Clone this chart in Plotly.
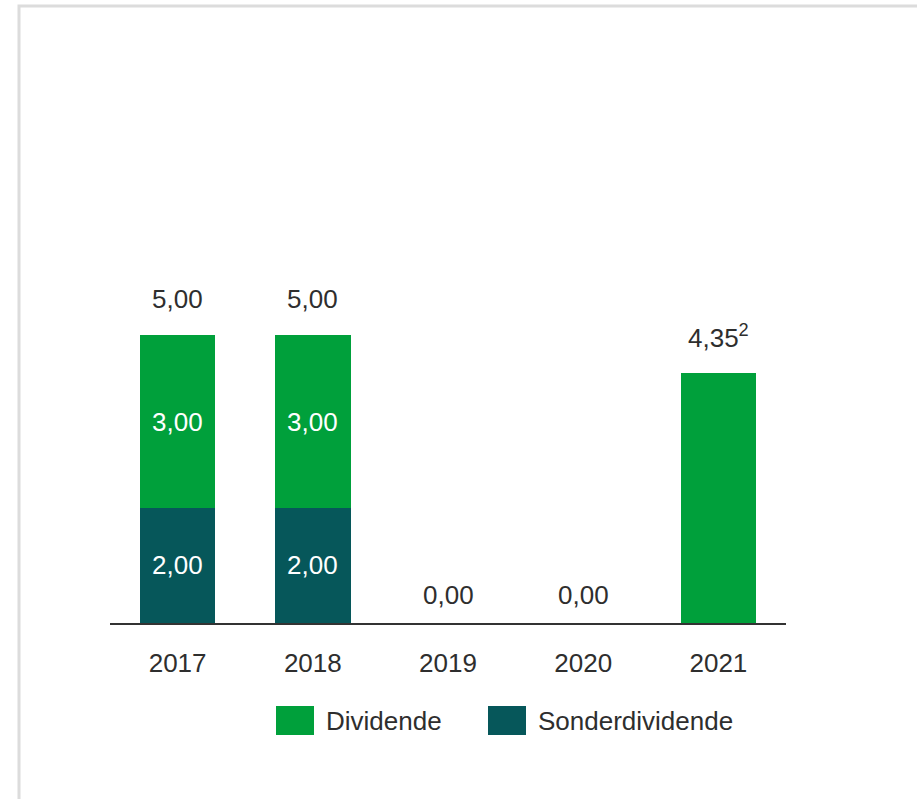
import plotly.graph_objects as go

# data
years = ['2017', '2018', '2019', '2020', '2021']
dividende = [3.00, 3.00, 0.00, 0.00, 4.35]
sonderdividende = [2.00, 2.00, 0.00, 0.00, 0.00]
footnotes = ['', '', '', '', '2']

GREEN = '#00A03B'
TEAL = '#06575A'
TEXT = '#2e2e2e'
FONT = 'Liberation Sans, Arial, sans-serif'


def fmt(v):
    return f'{v:.2f}'.replace('.', ',')


# plot area in pixels (used to place the hand-made legend and frame)
W, H = 917, 799
L, R, T, B = 110, 131, 220, 176
PW, PH = W - L - R, H - T - B


def px(x):
    return (x - L) / PW


def py(y):
    return (H - B - y) / PH


fig = go.Figure()
fig.add_trace(go.Bar(
    x=years, y=sonderdividende, name='Sonderdividende',
    marker=dict(color=TEAL, line=dict(width=0)),
))
fig.add_trace(go.Bar(
    x=years, y=dividende, name='Dividende',
    marker=dict(color=GREEN, line=dict(width=0)),
))

for i, (d, s, fn) in enumerate(zip(dividende, sonderdividende, footnotes)):
    total = d + s
    # white labels inside the stacked segments (only where both parts exist)
    if s > 0 and d > 0:
        for mid, v in ((s / 2, s), (s + d / 2, d)):
            fig.add_annotation(x=i, y=mid, text=fmt(v), showarrow=False,
                               yanchor='middle',
                               font=dict(size=26, color='white', family=FONT))
    # totals above the bars
    label = fmt(total) + (f'<sup>{fn}</sup>' if fn else '')
    fig.add_annotation(
        x=i, y=total, text=label, showarrow=False,
        yanchor='middle', yshift=36 if total > 0 else 28,
        font=dict(size=26, color=TEXT, family=FONT),
    )

# legend drawn by hand (large square swatches)
legend_items = [('Dividende', GREEN, 276, 326), ('Sonderdividende', TEAL, 488, 538)]
for name, col, sx, tx in legend_items:
    fig.add_shape(type='rect', xref='paper', yref='paper',
                  x0=px(sx), x1=px(sx + 38), y0=py(735), y1=py(706),
                  fillcolor=col, line=dict(width=0))
    fig.add_annotation(xref='paper', yref='paper', x=px(tx - 2), y=py(720.5),
                       text=name, showarrow=False, xanchor='left', yanchor='middle',
                       font=dict(size=26, color=TEXT, family=FONT))

# light grey frame round the chart
fig.add_shape(type='rect', xref='paper', yref='paper',
              x0=px(19), x1=px(W + 20), y0=py(H + 20), y1=py(6),
              line=dict(color='#dcdcdc', width=3), fillcolor='rgba(0,0,0,0)')

fig.update_layout(
    width=W, height=H,
    margin=dict(l=L, r=R, t=T, b=B),
    barmode='stack', bargap=0.44,
    showlegend=False,
    plot_bgcolor='white', paper_bgcolor='white',
    font=dict(family=FONT, size=26, color=TEXT),
    xaxis=dict(type='category', range=[-0.5, len(years) - 0.5], showgrid=False,
               showline=True, linecolor='#333333', linewidth=2,
               ticks='', ticklabelstandoff=16, tickfont=dict(size=26, color=TEXT)),
    yaxis=dict(range=[0, 7], visible=False, showgrid=False, zeroline=False),
)

fig.write_html('out.html', config={'displayModeBar': False},
               post_script="document.body.style.margin='0';")
